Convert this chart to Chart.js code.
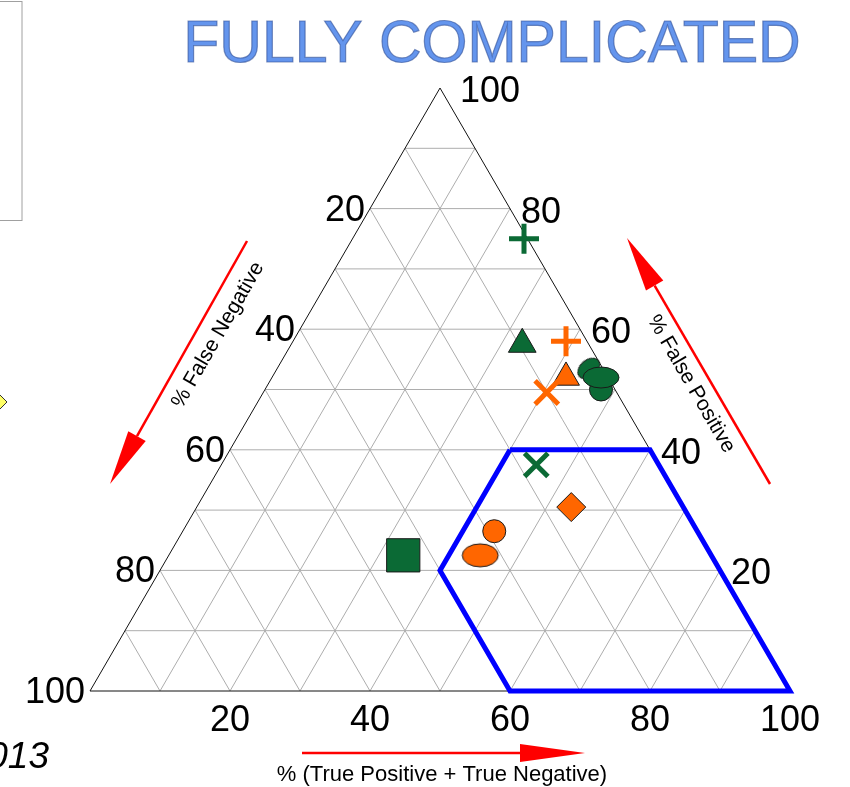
<!DOCTYPE html>
<html><head><meta charset="utf-8">
<script src="https://cdn.jsdelivr.net/npm/chart.js@4/dist/chart.umd.min.js"></script>
<style>html,body{margin:0;padding:0;background:#fff;overflow:hidden}#wrap{width:850px;height:787px}</style>
</head><body><div id="wrap"><canvas id="c" width="850" height="787"></canvas></div>
<script>
// ---- texts ----
const chartTitle = 'FULLY COMPLICATED';
const axisTitleBottom = '% (True Positive + True Negative)';
const axisTitleLeft = '% False Negative';
const axisTitleRight = '% False Positive';
const cornerNote = '2013';

// ---- ticks / grid ----
const tickValues = [20, 40, 60, 80, 100];
const gridValues = [10, 20, 30, 40, 50, 60, 70, 80, 90];

// ---- series (ternary: TP+TN, FP, FN in %) ----
const greenTPTN  = [24.5, 33,   45,   33.5, 44.5, 48, 47];
const greenFP    = [75,   57.5, 37.5, 22.5, 53.5, 50, 52];
const greenFN    = [0.5,  9.5,  17.5, 44,   2,    2,  1];
const greenShape = ['cross', 'triangle', 'crossRot', 'rect', 'ellipseTilted', 'circle', 'ellipse'];

const orangeTPTN  = [39, 42, 40.5, 53.5, 44.5, 44.5];
const orangeFP    = [58, 52, 49.5, 30.5, 26.5, 22.5];
const orangeFN    = [3,  6,  10,   16,   29,   33];
const orangeShape = ['cross', 'triangle', 'crossRot', 'rectRot', 'circle', 'ellipse'];

// ---- highlighted region (closed polygon) ----
const regionTPTN = [40, 60, 100, 60, 40, 40];
const regionFP   = [40, 40, 0,   0,  20, 40];
const regionFN   = [20, 0,  0,   40, 40, 20];

// ---- helpers ----
const GREEN = '#0b6a35', ORANGE = '#ff6600';
function tern(a, b) { return { x: a + b / 2, y: b }; }

function makeEllipse(w, h, fill) {
  const c = document.createElement('canvas');
  c.width = w + 4; c.height = h + 4;
  const g = c.getContext('2d');
  g.beginPath();
  g.ellipse(c.width / 2, c.height / 2, w / 2, h / 2, 0, 0, Math.PI * 2);
  g.fillStyle = fill; g.fill();
  g.lineWidth = 1; g.strokeStyle = '#1a1a1a'; g.stroke();
  return c;
}

function styleSet(shapes, color) {
  const ps = [], rad = [], bc = [], bw = [], rot = [];
  shapes.forEach(s => {
    let st = s, r = 12, c = '#1a1a1a', w = 1, ro = 0;
    if (s === 'cross') { r = 15; c = color; w = 5; }
    else if (s === 'crossRot') { r = 16.5; c = color; w = 5; }
    else if (s === 'triangle') { r = color === GREEN ? 16 : 15.5; }
    else if (s === 'rect') { r = 23.5; }
    else if (s === 'rectRot') { r = 14.5; }
    else if (s === 'circle') { r = color === GREEN ? 11.5 : 11.5; }
    else if (s === 'ellipse') { st = color === GREEN ? makeEllipse(36, 21, color) : makeEllipse(36, 23, color); r = 18; }
    else if (s === 'ellipseTilted') { st = makeEllipse(25, 17, color); r = 12; ro = -40; }
    ps.push(st); rad.push(r); bc.push(c); bw.push(w); rot.push(ro);
  });
  return { ps, rad, bc, bw, rot };
}

const datasets = [];
const gs = styleSet(greenShape, GREEN);
datasets.push({
  label: 'green', order: 1,
  data: greenTPTN.map((a, i) => tern(a, greenFP[i])),
  pointStyle: gs.ps, pointRadius: gs.rad, pointBackgroundColor: GREEN,
  pointBorderColor: gs.bc, pointBorderWidth: gs.bw, pointRotation: gs.rot,
  showLine: false, clip: false
});
const os = styleSet(orangeShape, ORANGE);
datasets.push({
  label: 'orange', order: 2,
  data: orangeTPTN.map((a, i) => tern(a, orangeFP[i])),
  pointStyle: os.ps, pointRadius: os.rad, pointBackgroundColor: ORANGE,
  pointBorderColor: os.bc, pointBorderWidth: os.bw, pointRotation: os.rot,
  showLine: false, clip: false
});
datasets.push({
  label: 'region', order: 3,
  data: regionTPTN.map((a, i) => tern(a, regionFP[i])),
  showLine: true, borderColor: '#0000ff', borderWidth: 5, pointRadius: 0,
  borderJoinStyle: 'miter', fill: false, tension: 0, clip: false
});
datasets.push({
  label: 'frame', order: 4,
  data: [tern(0, 0), tern(100, 0), tern(0, 100), tern(0, 0)],
  showLine: true, borderColor: '#111', borderWidth: 1, pointRadius: 0, tension: 0, clip: false
});
gridValues.forEach(v => {
  const lines = [
    [tern(100 - v, v), tern(0, v)],            // constant FP
    [tern(v, 0), tern(v, 100 - v)],            // constant TP+TN
    [tern(100 - v, 0), tern(0, 100 - v)]       // constant FN
  ];
  lines.forEach(l => datasets.push({
    label: 'grid', order: 5, data: l, showLine: true,
    borderColor: '#adadad', borderWidth: 1, pointRadius: 0, tension: 0, clip: false
  }));
});

function arrow(ctx, x0, y0, x1, y1, headLen, headHalf) {
  const dx = x1 - x0, dy = y1 - y0, L = Math.hypot(dx, dy);
  const ux = dx / L, uy = dy / L;
  const bx = x1 - ux * headLen, by = y1 - uy * headLen;
  ctx.beginPath(); ctx.moveTo(x0, y0); ctx.lineTo(bx, by); ctx.stroke();
  ctx.beginPath();
  ctx.moveTo(x1, y1);
  ctx.lineTo(bx - uy * headHalf, by + ux * headHalf);
  ctx.lineTo(bx + uy * headHalf, by - ux * headHalf);
  ctx.closePath(); ctx.fill();
}

const decor = {
  id: 'decor',
  beforeDatasetsDraw(chart) {
    const ctx = chart.ctx;
    ctx.save();
    ctx.strokeStyle = '#a0a0a0'; ctx.lineWidth = 1;
    ctx.strokeRect(-1, 1.5, 23, 219);
    ctx.beginPath();
    ctx.moveTo(-7, 388); ctx.lineTo(7, 402); ctx.lineTo(-7, 416); ctx.lineTo(-21, 402); ctx.closePath();
    ctx.fillStyle = '#ffff66'; ctx.fill(); ctx.strokeStyle = '#333'; ctx.stroke();
    ctx.restore();
  },
  afterDraw(chart) {
    const ctx = chart.ctx, xs = chart.scales.x, ys = chart.scales.y;
    const P = (a, b) => ({ x: xs.getPixelForValue(a + b / 2), y: ys.getPixelForValue(b) });
    ctx.save();
    // title
    ctx.font = '59px "Liberation Sans", Arial, sans-serif';
    ctx.textAlign = 'center'; ctx.textBaseline = 'alphabetic';
    ctx.fillStyle = '#6495ed'; ctx.fillText(chartTitle, 492, 62);
    ctx.lineWidth = 1.2; ctx.strokeStyle = 'rgba(50,80,150,0.6)'; ctx.strokeText(chartTitle, 492, 62);

    // tick labels
    ctx.fillStyle = '#000';
    ctx.font = '36px "Liberation Sans", Arial, sans-serif';
    ctx.textBaseline = 'middle';
    tickValues.forEach(v => {
      let p = P(v, 0);
      ctx.textAlign = 'center'; ctx.fillText(String(v), p.x, p.y + 30);
      p = P(100 - v, v);
      ctx.textAlign = 'left'; ctx.fillText(String(v), p.x + (v === 100 ? 20 : 11), p.y + 4);
      p = P(0, 100 - v);
      ctx.textAlign = 'right'; ctx.fillText(String(v), p.x - 5, p.y + 2);
    });

    // axis titles
    ctx.font = '21px "Liberation Sans", Arial, sans-serif';
    ctx.textAlign = 'center'; ctx.textBaseline = 'middle';
    ctx.save(); ctx.translate(218, 335); ctx.rotate(-Math.PI / 3); ctx.fillText(axisTitleLeft, 0, 0); ctx.restore();
    ctx.save(); ctx.translate(691, 384); ctx.rotate(Math.PI / 3); ctx.fillText(axisTitleRight, 0, 0); ctx.restore();
    ctx.font = '22px "Liberation Sans", Arial, sans-serif';
    ctx.fillText(axisTitleBottom, 442, 775);

    // corner note (cropped)
    ctx.font = 'italic 37px "Liberation Sans", Arial, sans-serif';
    ctx.textAlign = 'right'; ctx.textBaseline = 'alphabetic';
    ctx.fillText(cornerNote, 49, 768);

    // red direction arrows
    ctx.strokeStyle = '#ff0000'; ctx.fillStyle = '#ff0000'; ctx.lineWidth = 2.5;
    arrow(ctx, 247, 241, 110, 484, 55, 10);
    arrow(ctx, 770, 484, 627, 238, 55, 10);
    arrow(ctx, 302, 753, 585, 753, 65, 9);
    ctx.restore();
  }
};

new Chart(document.getElementById('c'), {
  type: 'scatter',
  data: { datasets },
  options: {
    responsive: false, animation: false, events: [],
    devicePixelRatio: 1,
    layout: { padding: 0, autoPadding: false },
    plugins: { legend: { display: false }, tooltip: { enabled: false }, title: { display: false } },
    scales: {
      x: { type: 'linear', display: false, min: -90 / 7, max: 760 / 7 },
      y: { type: 'linear', display: false, min: (691 - 787) / 6.03, max: 691 / 6.03 }
    }
  },
  plugins: [decor]
});
</script>
</body></html>
